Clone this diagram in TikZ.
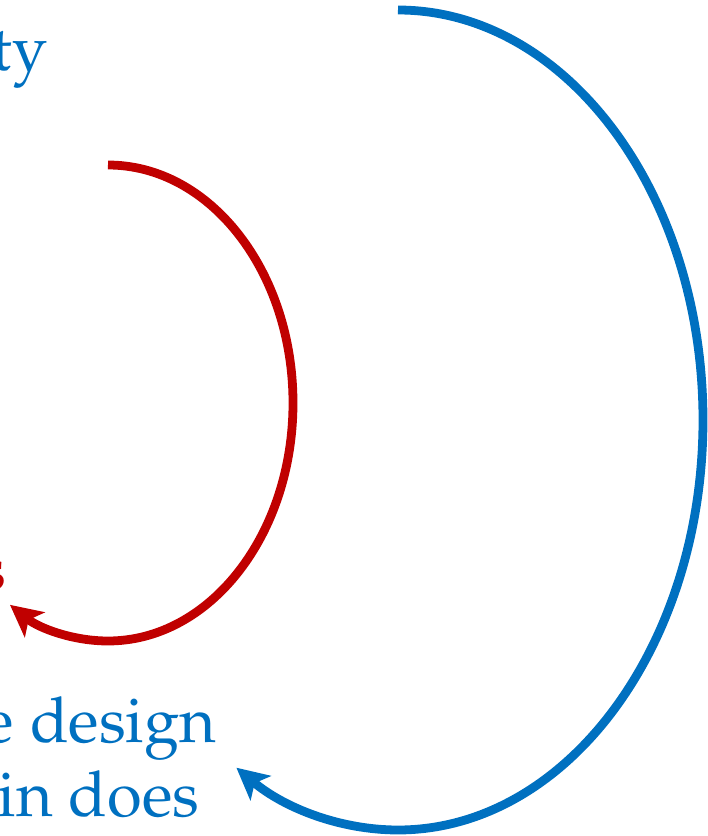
\documentclass[tikz,border=0pt]{standalone}
\usepackage[T1]{fontenc}
\usepackage{mathpazo}
\usepackage{tikz}
\usetikzlibrary{arrows.meta}

\definecolor{loopblue}{RGB}{0,112,192}
\definecolor{loopred}{RGB}{192,0,0}

\begin{document}
\begin{tikzpicture}[
    label/.style={inner sep=0pt, anchor=base east, font=\fontsize{18}{22.5}\selectfont},
    loop/.style={line width=2.5pt, -{Stealth[length=9pt, width=9pt, inset=2.2pt]}}
]
\useasboundingbox (0,0) rectangle (7.08,8.36);

% Labels (cut at the left edge)
\node[label, text=loopblue] (outertxt) at (0.48,7.66) {ty};
\node[label, text=loopred] (innertxt) at (0.07,2.46) {s};
\node[label, text=loopblue] (bottomtxt1) at (2.17,0.94) {e design};
\node[label, text=loopblue] (bottomtxt2) at (2.00,0.19) {in does};

% Loop start points
\coordinate (outerstart) at (3.98,8.26);
\coordinate (innerstart) at (1.08,6.71);

% Outer loop
\draw[loop, loopblue] (outerstart) arc[start angle=90, end angle=-122, x radius=3.05, y radius=4.10];

% Inner loop
\draw[loop, loopred] (innerstart) arc[start angle=90, end angle=-122, x radius=1.85, y radius=2.38];

\end{tikzpicture}
\end{document}
